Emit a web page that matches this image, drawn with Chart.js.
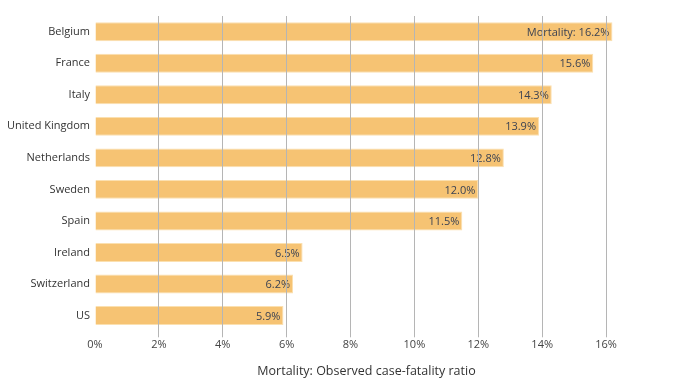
<!DOCTYPE html>
<html><head><meta charset="utf-8">
<script src="https://cdn.jsdelivr.net/npm/chart.js@4"></script>
<style>html,body{margin:0;padding:0;background:#fff}#w{width:688px;height:381px}</style>
</head><body><div id="w"><canvas id="c"></canvas></div>
<script>
const countries = ["Belgium","France","Italy","United Kingdom","Netherlands","Sweden","Spain","Ireland","Switzerland","US"];
const mortality = [16.2,15.6,14.3,13.9,12.8,12.0,11.5,6.5,6.2,5.9];
const xTicks = [0,2,4,6,8,10,12,14,16];
const axisTitle = "Mortality: Observed case-fatality ratio";

const FONT = "'Open Sans', sans-serif";
const labelPlugin = {
  id: 'labels',
  afterDatasetsDraw(chart) {
    const ctx = chart.ctx;
    const meta = chart.getDatasetMeta(0);
    ctx.save();
    ctx.font = "11px " + FONT;
    ctx.fillStyle = "#3b4252";
    ctx.textAlign = "right";
    ctx.textBaseline = "middle";
    meta.data.forEach((bar, i) => {
      const txt = (i === 0 ? "Mortality: " : "") + mortality[i].toFixed(1) + "%";
      ctx.fillText(txt, bar.x - 3, bar.y + 1);
    });
    ctx.restore();
  }
};

new Chart(document.getElementById('c'), {
  type: 'bar',
  data: {
    labels: countries,
    datasets: [{
      data: mortality,
      backgroundColor: '#f6c373',
      borderColor: '#fbe0b0',
      borderWidth: 1,
      categoryPercentage: 0.6,
      barPercentage: 1
    }]
  },
  options: {
    indexAxis: 'y',
    responsive: true,
    maintainAspectRatio: false,
    animation: false,
    layout: { padding: { top: 16, right: 50, left: 2, bottom: 2.5 } },
    plugins: { legend: { display: false }, tooltip: { enabled: false } },
    scales: {
      x: {
        min: 0, max: 17,
        afterBuildTicks(scale) { scale.ticks = xTicks.map(v => ({ value: v })); },
        grid: {
          z: 1,
          color: (c) => c.tick && c.tick.value === 0 ? 'rgba(0,0,0,0)' : '#b5b5b5',
          drawTicks: true, tickLength: 6, tickColor: (c) => c.tick && c.tick.value === 0 ? 'rgba(0,0,0,0)' : '#b5b5b5'
        },
        border: { display: false },
        ticks: { callback: v => v + '%', color: '#444', font: { family: FONT, size: 11 }, padding: 1 },
        title: { display: true, text: axisTitle, color: '#333', font: { family: FONT, size: 12.5 }, padding: { top: 11, bottom: 0 } }
      },
      y: {
        grid: { display: false, drawTicks: false },
        border: { display: false },
        ticks: { color: '#333', font: { family: FONT, size: 11 }, padding: 5 }
      }
    }
  },
  plugins: [labelPlugin]
});
</script></body></html>
